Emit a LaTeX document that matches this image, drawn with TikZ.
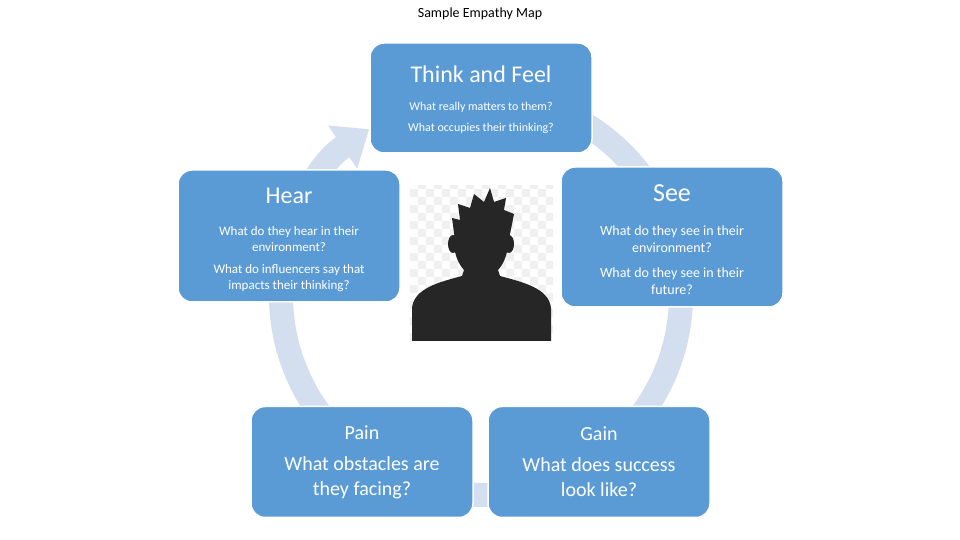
\documentclass[tikz,border=0pt]{standalone}
\usepackage{fontspec}
\setmainfont{Carlito}
\usetikzlibrary{arrows.meta}
\definecolor{boxc}{HTML}{5B9BD5}
\definecolor{ringc}{HTML}{D3DEEF}
\definecolor{sil}{HTML}{262626}
\tikzset{
  card/.style={fill=boxc,draw=white,line width=1.5pt,rounded corners=14pt,text=white,align=center},
  ttl/.style={text=white,font=\fontsize{24}{28}\selectfont},
  sub/.style={text=white,align=center}
}
\begin{document}
\begin{tikzpicture}[x=1pt,y=1pt]
\useasboundingbox (0,0) rectangle (960,540);
\fill[white] (0,0) rectangle (960,540);
\node (title) at (480,526) {\fontsize{14}{16}\selectfont Sample Empathy Map};
% ring
\draw[ringc,line width=24pt,-{Triangle[width=50pt,length=32pt]}] (481,245) ++(90:200) arc[start angle=90,end angle=-236,radius=200];
% person
\begin{scope}
\clip (410,199) rectangle (553,354);
\fill[white] (410,199) rectangle (553,354);
\foreach \i in {0,...,17}{\foreach \j in {0,...,19}{
  \pgfmathtruncatemacro{\chk}{mod(\i+\j,2)}
  \ifnum\chk=0 \fill[gray!12] (410+\i*8,199+\j*8) rectangle ++(8,8);\fi}}
\fill[sil] (412,199) -- (412,232) .. controls (414,252) and (440,258) .. (462,264) -- (466,276) -- (496,276) -- (500,264) .. controls (522,258) and (549,252) .. (551,232) -- (551,199) -- cycle;
\fill[sil] (466,280) -- (466,262) -- (497,262) -- (497,280) -- cycle;
\fill[sil] (481,298) ellipse (27 and 36);
\fill[sil] (455,300) -- (452,322) -- (460,320) -- (458,336) -- (470,332) -- (474,346) -- (484,338) -- (490,352) -- (494,338) -- (506,342) -- (504,330) -- (514,326) -- (508,296) -- cycle;
\fill[sil] (453,296) ellipse (5 and 9);
\fill[sil] (509,296) ellipse (5 and 9);
\end{scope}
% cards
\node[card,minimum width=222pt,minimum height=110pt] (think) at (481,442) {};
\node[ttl,anchor=center] (thinkt) at (481,466) {Think and Feel};
\node[sub,font=\fontsize{12}{21}\selectfont,anchor=center] (thinks) at (481,422) {What really matters to them?\\What occupies their thinking?};
\node[card,minimum width=222pt,minimum height=140pt] (see) at (672,303) {};
\node[ttl,font=\fontsize{26}{30}\selectfont] (seet) at (672,347) {See};
\node[sub,font=\fontsize{14}{17}\selectfont] (sees1) at (672,301) {What do they see in their\\environment?};
\node[sub,font=\fontsize{14}{17}\selectfont] (sees2) at (672,259) {What do they see in their\\future?};
\node[card,minimum width=222pt,minimum height=132pt] (hear) at (289,304) {};
\node[ttl] (heart) at (289,344) {Hear};
\node[sub,font=\fontsize{13}{16}\selectfont] (hears1) at (289,301) {What do they hear in their\\environment?};
\node[sub,font=\fontsize{13}{16}\selectfont] (hears2) at (289,262) {What do influencers say that\\impacts their thinking?};
\node[card,minimum width=222pt,minimum height=111pt] (pain) at (362,78) {};
\node[sub,font=\fontsize{20}{25}\selectfont] (paint) at (362,78) {Pain\\[6pt]What obstacles are\\they facing?};
\node[card,minimum width=222pt,minimum height=111pt] (gain) at (599,78) {};
\node[sub,font=\fontsize{20}{25}\selectfont] (gaint) at (599,78) {Gain\\[6pt]What does success\\look like?};
\end{tikzpicture}
\end{document}
